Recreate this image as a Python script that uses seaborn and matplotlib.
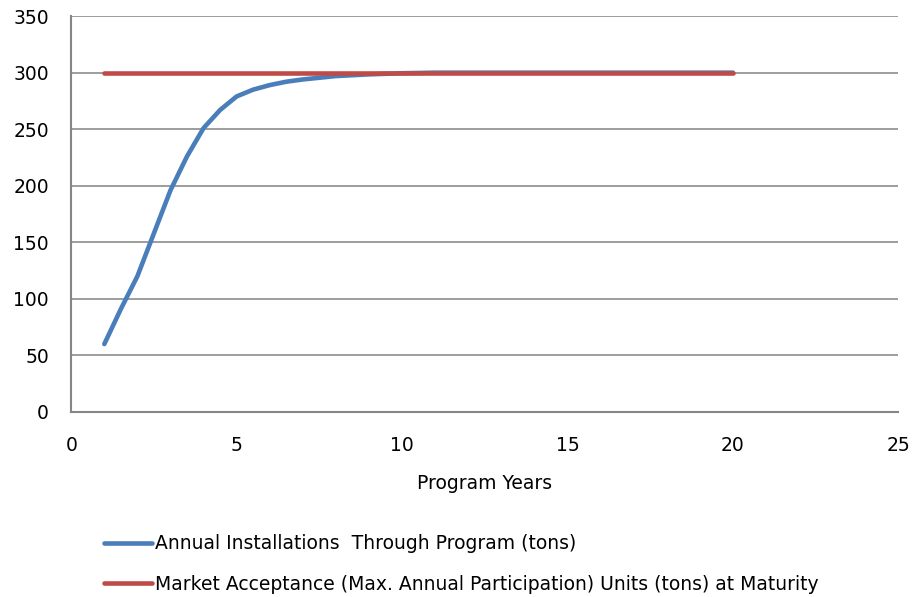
import matplotlib
matplotlib.use("Agg")
import matplotlib.pyplot as plt
import seaborn as sns
import pandas as pd

years = [1, 1.5, 2, 2.5, 3, 3.5, 4, 4.5, 5, 5.5, 6, 6.5, 7, 7.5, 8, 9, 10, 11, 12, 13, 14, 15, 16, 17, 18, 19, 20]
installs = [60, 91, 120, 158, 196, 226, 251, 267, 279, 285, 289, 292, 294, 295.5, 297, 298.5, 299.5,
            300, 300, 300, 300, 300, 300, 300, 300, 300, 300]
max_years = [1, 20]
max_units = [300, 300]
label_a = "Annual Installations  Through Program (tons)"
label_b = "Market Acceptance (Max. Annual Participation) Units (tons) at Maturity"

sns.set_theme(style="white")
plt.rcParams["font.family"] = ["DejaVu Sans"]

fig = plt.figure(figsize=(9.13, 5.97), dpi=100)
ax = fig.add_axes([0.078, 0.31, 0.906, 0.663])

df_a = pd.DataFrame({"x": years, "y": installs})
df_b = pd.DataFrame({"x": max_years, "y": max_units})
sns.lineplot(data=df_a, x="x", y="y", ax=ax, color="#4A7EBB", lw=3.3, label=label_a,
             solid_capstyle="round", solid_joinstyle="round")
sns.lineplot(data=df_b, x="x", y="y", ax=ax, color="#BE4B48", lw=3.3, label=label_b,
             solid_capstyle="round")

ax.set_xlim(0, 25)
ax.set_ylim(0, 350)
ax.set_xticks(range(0, 26, 5))
ax.set_yticks(range(0, 351, 50))
ax.yaxis.grid(True, color="#8C8C8C", lw=1.2)
ax.set_axisbelow(True)
for s in ["top", "right"]:
    ax.spines[s].set_visible(False)
for s in ["left", "bottom"]:
    ax.spines[s].set_color("#868686")
    ax.spines[s].set_linewidth(1.5)
ax.tick_params(axis="both", labelsize=13.5, colors="black", length=0)
ax.tick_params(axis="x", pad=17)
ax.tick_params(axis="y", pad=16)
ax.set_xlabel("Program Years", fontsize=13.5, labelpad=14, color="black")
ax.set_ylabel("")

leg = ax.legend(loc="upper left", bbox_to_anchor=(0.03, -0.29), frameon=False,
                fontsize=13.5, handlelength=2.6, handletextpad=0.15, labelspacing=1.15,
                borderaxespad=0)
for t in leg.get_texts():
    t.set_color("black")

fig.savefig("out.png", dpi=100)
